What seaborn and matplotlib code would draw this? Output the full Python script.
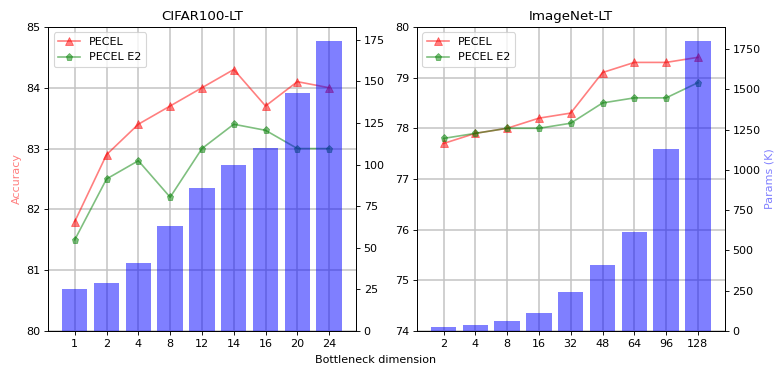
import numpy as np
import pandas as pd
import seaborn as sns
import matplotlib.pyplot as plt

# CIFAR100-LT
cifar_dims = ["1", "2", "4", "8", "12", "14", "16", "20", "24"]
cifar_pecel = [81.8, 82.9, 83.4, 83.7, 84.0, 84.3, 83.7, 84.1, 84.0]
cifar_e2 = [81.5, 82.5, 82.8, 82.2, 83.0, 83.4, 83.3, 83.0, 83.0]
cifar_params = [25, 29, 41, 63, 86, 100, 110, 143, 174]

# ImageNet-LT
imnet_dims = ["2", "4", "8", "16", "32", "48", "64", "96", "128"]
imnet_pecel = [77.7, 77.9, 78.0, 78.2, 78.3, 79.1, 79.3, 79.3, 79.4]
imnet_e2 = [77.8, 77.9, 78.0, 78.0, 78.1, 78.5, 78.6, 78.6, 78.9]
imnet_params = [23, 37, 62, 112, 243, 411, 616, 1133, 1798]


def draw_panel(ax, title, dims, pecel, e2, params, ylim, show_acc, show_params):
    df = pd.DataFrame({"dim": dims, "pos": np.arange(len(dims)),
                       "PECEL": pecel, "PECEL E2": e2, "params": params})
    ax.grid(True, color="#c4c4c4", linewidth=1.4)
    ax.set_axisbelow(True)
    sns.lineplot(data=df, x="pos", y="PECEL", ax=ax, color="red", alpha=0.5,
                 marker="^", markersize=7, markeredgecolor="red",
                 linewidth=1.5, label="PECEL")
    sns.lineplot(data=df, x="pos", y="PECEL E2", ax=ax, color="green", alpha=0.5,
                 marker="p", markersize=6.5, markeredgecolor="green",
                 linewidth=1.5, label="PECEL E2")
    ax.set_ylim(*ylim)
    ax.legend(loc="upper left", fontsize=10)
    ax.set_title(title, fontsize=12)

    ax2 = ax.twinx()
    sns.barplot(data=df, x="pos", y="params", ax=ax2, color="blue", alpha=0.5,
                saturation=1, width=0.8, native_scale=True)
    ax2.set_ylim(0, max(params) * 1.05)
    ax.set_xlim(-0.84, len(dims) - 1 + 0.84)
    ax.set_xticks(df["pos"])
    ax.set_xticklabels(dims)
    ax.set_xlabel("")
    ax2.set_xlabel("")
    ax.set_ylabel("Accuracy" if show_acc else "", color="red", alpha=0.5, fontsize=10)
    ax2.set_ylabel("Params (K)" if show_params else "", color="blue", alpha=0.5, fontsize=10)
    ax.tick_params(labelsize=10)
    ax2.tick_params(labelsize=10)
    for a in (ax, ax2):
        for s in a.spines.values():
            s.set_color("black")


fig, axes = plt.subplots(1, 2, figsize=(775 / 80, 369 / 80), dpi=80)
fig.subplots_adjust(left=0.062, right=0.935, bottom=0.103, top=0.927, wspace=0.198)

draw_panel(axes[0], "CIFAR100-LT", cifar_dims, cifar_pecel, cifar_e2, cifar_params,
           (80, 85), True, False)
draw_panel(axes[1], "ImageNet-LT", imnet_dims, imnet_pecel, imnet_e2, imnet_params,
           (74, 80), False, True)

fig.text(0.484, 0.024, "Bottleneck dimension", ha="center", va="center", fontsize=10)

fig.savefig("out.png", dpi=80)
